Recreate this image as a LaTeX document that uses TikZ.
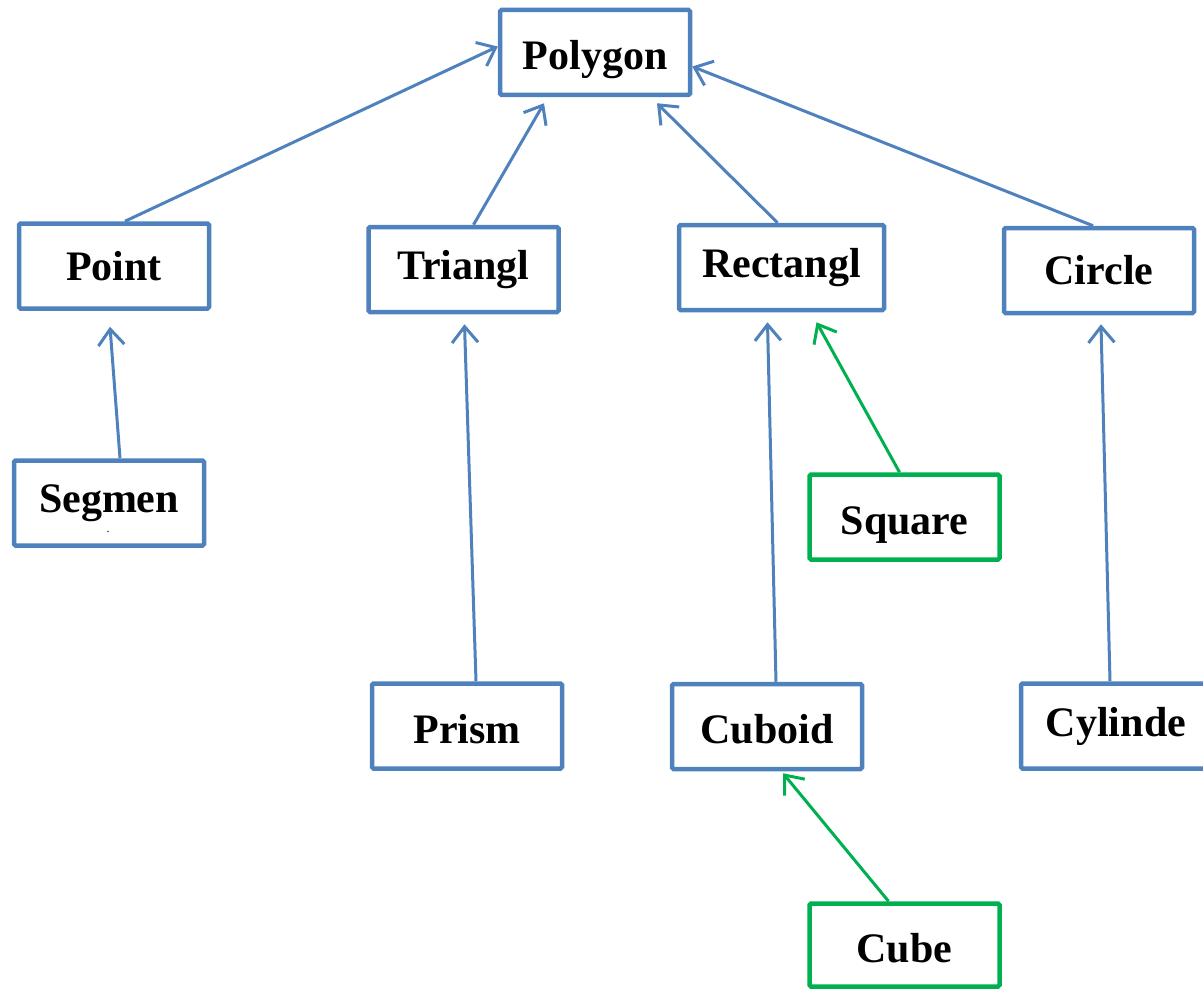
\documentclass[tikz,border=0pt]{standalone}
\usepackage{fontspec}
\setmainfont{Liberation Serif}
\usetikzlibrary{arrows.meta}
\definecolor{boxblue}{RGB}{79,129,189}
\definecolor{boxgreen}{RGB}{0,176,80}
\begin{document}
\begin{tikzpicture}[x=1pt,y=-1pt,
  cls/.style={draw=boxblue,line width=4.5pt,rounded corners=1.5pt,fill=white,
    minimum width=190pt,minimum height=85pt,inner sep=0pt,
    font=\fontsize{42}{50}\selectfont\bfseries},
  gcls/.style={cls,draw=boxgreen},
  lower/.style={text height=34pt,text depth=0pt},
  inh/.style={draw=boxblue,line width=3pt,-{Straight Barb[length=16pt,width=26pt]}},
  ginh/.style={inh,draw=boxgreen}]
\useasboundingbox (0,0) rectangle (1203,990);
\node[cls,lower] (polygon) at (595,52.5) {Polygon};
\node[cls] (point) at (114,266) {Point};
\node[cls] (triangl) at (463.5,269.5) {Triangl};
\node[cls,minimum width=205pt] (rectangl) at (781.5,267.5) {Rectangl};
\node[cls] (circle) at (1099,270.5) {Circle};
\node[cls] (segmen) at (109,503) {Segmen};
\node[font=\fontsize{12}{12}\selectfont, inner sep=0pt] (segdot) at (108,532) {.};
\node[gcls,lower] (square) at (904.5,517) {Square};
\node[cls,lower] (prism) at (467,726) {Prism};
\node[cls,lower] (cuboid) at (767,726.5) {Cuboid};
\node[cls] (cylinde) at (1116,726) {Cylinde};
\node[gcls,lower,minimum height=83pt] (cube) at (904.5,945) {Cube};
% connectors
\draw[inh] ([xshift=11pt]point.north) -- ([yshift=6pt]polygon.west);
\draw[inh] ([xshift=10pt]triangl.north) -- ([xshift=-51pt,yshift=-6pt]polygon.south);
\draw[inh] ([xshift=-4pt]rectangl.north) -- ([xshift=62pt,yshift=-6pt]polygon.south);
\draw[inh] ([xshift=-6pt]circle.north) -- ([yshift=-14pt]polygon.east);
\draw[inh] ([xshift=11pt]segmen.north) -- ([xshift=-4pt,yshift=-16pt]point.south);
\draw[inh] ([xshift=9pt]prism.north) -- ([xshift=1pt,yshift=-10pt]triangl.south);
\draw[inh] ([xshift=9pt]cuboid.north) -- ([xshift=-14pt,yshift=-10pt]rectangl.south);
\draw[ginh] ([xshift=-5pt]square.north) -- ([xshift=35pt,yshift=-10pt]rectangl.south);
\draw[inh] ([xshift=-6pt]cylinde.north) -- ([xshift=2pt,yshift=-9pt]circle.south);
\draw[ginh] ([xshift=-16pt]cube.north) -- ([xshift=16pt,yshift=-2pt]cuboid.south);
\end{tikzpicture}
\end{document}
